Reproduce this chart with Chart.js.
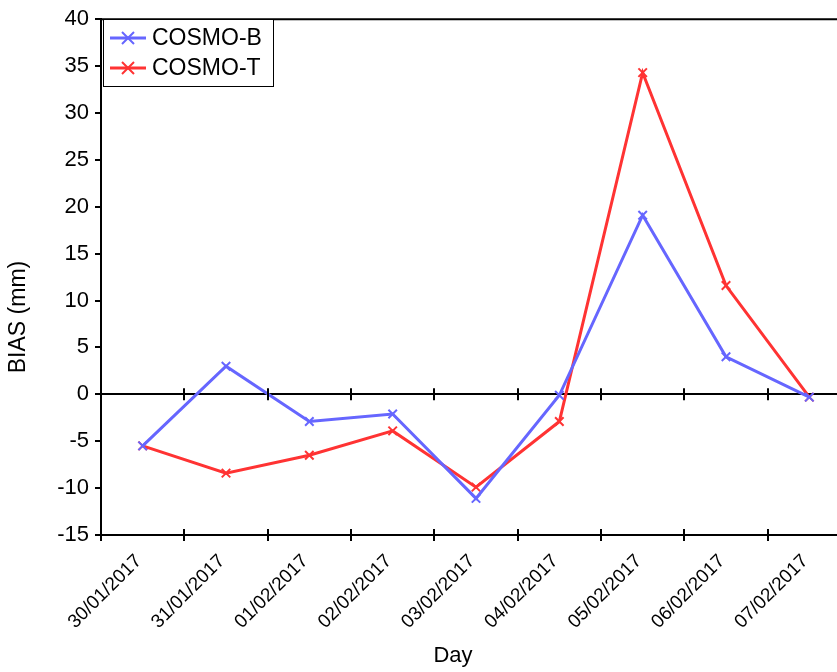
<!DOCTYPE html>
<html>
<head>
<meta charset="utf-8">
<script src="https://cdn.jsdelivr.net/npm/chart.js@4"></script>
<style>
  html, body { margin: 0; padding: 0; background: #fff; overflow: hidden; }
  #wrap { width: 870px; height: 672px; }
</style>
</head>
<body>
<div id="wrap"><canvas id="biasChart" width="870" height="672"></canvas></div>
<script>
// days on the x axis
const days = ["30/01/2017", "31/01/2017", "01/02/2017", "02/02/2017", "03/02/2017",
              "04/02/2017", "05/02/2017", "06/02/2017", "07/02/2017"];

// BIAS (mm) per model
const cosmoB = [-5.5, 3.0, -2.9, -2.1, -11.1, -0.1, 19.1, 4.0, -0.3];
const cosmoT = [-5.5, -8.4, -6.5, -3.9, -9.9, -2.9, 34.3, 11.6, -0.3];

const yTicks = { min: -15, max: 40, step: 5 };

const FONT = "'Liberation Sans', Arial, sans-serif";

// top frame line, zero-line ticks, inner half of bottom ticks, axis titles, legend
const framePlugin = {
  id: "frame",
  afterDraw(chart) {
    const { ctx, chartArea: a, scales: { x, y } } = chart;
    const y0 = y.getPixelForValue(0);
    const half = (x.getPixelForValue(1) - x.getPixelForValue(0)) / 2;
    ctx.save();
    ctx.strokeStyle = "#000";
    ctx.lineWidth = 2;
    ctx.beginPath();
    ctx.moveTo(a.left - 1, a.top);
    ctx.lineTo(a.right + 10, a.top);
    for (let i = 0; i <= days.length; i++) {
      const px = Math.round(x.getPixelForValue(i) - half);
      ctx.moveTo(px, y0 - 6);
      ctx.lineTo(px, y0 + 6);
      ctx.moveTo(px, a.bottom - 6);
      ctx.lineTo(px, a.bottom);
    }
    ctx.stroke();

    ctx.fillStyle = "#000";
    ctx.font = "22px " + FONT;
    ctx.textAlign = "center";
    ctx.textBaseline = "middle";
    ctx.fillText("Day", 453, 656);

    ctx.save();
    ctx.translate(19, 317);
    ctx.rotate(-Math.PI / 2);
    ctx.font = "23px " + FONT;
    ctx.fillText("BIAS (mm)", 0, 0);
    ctx.restore();

    // legend
    const lx = 103, ly = 19, lw = 170, lh = 67;
    ctx.fillStyle = "#fff";
    ctx.fillRect(lx, ly, lw, lh);
    ctx.lineWidth = 1;
    ctx.strokeRect(lx + 0.5, ly + 0.5, lw, lh);
    chart.data.datasets.forEach((ds, i) => {
      const cy = 38 + i * 30;
      ctx.strokeStyle = ds.borderColor;
      ctx.lineWidth = 3;
      ctx.beginPath();
      ctx.moveTo(110, cy);
      ctx.lineTo(146, cy);
      ctx.stroke();
      ctx.lineWidth = 2;
      ctx.beginPath();
      ctx.moveTo(122, cy - 6); ctx.lineTo(134, cy + 6);
      ctx.moveTo(134, cy - 6); ctx.lineTo(122, cy + 6);
      ctx.stroke();
      ctx.fillStyle = "#000";
      ctx.font = "23px " + FONT;
      ctx.textAlign = "left";
      ctx.fillText(ds.label, 152, cy + 1);
    });
    ctx.restore();
  }
};

new Chart(document.getElementById("biasChart"), {
  type: "line",
  data: {
    labels: days,
    datasets: [
      {
        label: "COSMO-B",
        data: cosmoB,
        borderColor: "#6666ff",
        backgroundColor: "#6666ff",
        borderWidth: 3,
        pointStyle: "crossRot",
        pointRadius: 6,
        pointBorderWidth: 2,
        tension: 0
      },
      {
        label: "COSMO-T",
        data: cosmoT,
        borderColor: "#ff3333",
        backgroundColor: "#ff3333",
        borderWidth: 3,
        pointStyle: "crossRot",
        pointRadius: 6,
        pointBorderWidth: 2,
        tension: 0
      }
    ]
  },
  options: {
    responsive: false,
    animation: false,
    layout: { padding: { top: 18, right: 19, left: 0, bottom: 0 } },
    plugins: {
      legend: { display: false },
      tooltip: { enabled: false }
    },
    scales: {
      x: {
        offset: true,
        afterFit(scale) { scale.height = 137; },
        grid: {
          offset: true,
          drawOnChartArea: false,
          tickLength: 6,
          tickColor: "#000",
          lineWidth: 2
        },
        border: { display: true, color: "#000", width: 2 },
        ticks: {
          color: "#000",
          font: { family: FONT, size: 19 },
          maxRotation: 45,
          minRotation: 45,
          padding: 9,
          labelOffset: -4,
          autoSkip: false
        }
      },
      y: {
        min: yTicks.min,
        max: yTicks.max,
        afterFit(scale) { scale.width = 101; },
        grid: {
          color: c => (c.tick && c.tick.value === 0 ? "#000" : "rgba(0,0,0,0)"),
          lineWidth: 2,
          tickLength: 6,
          tickColor: "#000"
        },
        border: { display: true, color: "#000", width: 2 },
        ticks: {
          stepSize: yTicks.step,
          color: "#000",
          font: { family: FONT, size: 22 },
          padding: 6
        }
      }
    }
  },
  plugins: [framePlugin]
});
</script>
</body>
</html>
